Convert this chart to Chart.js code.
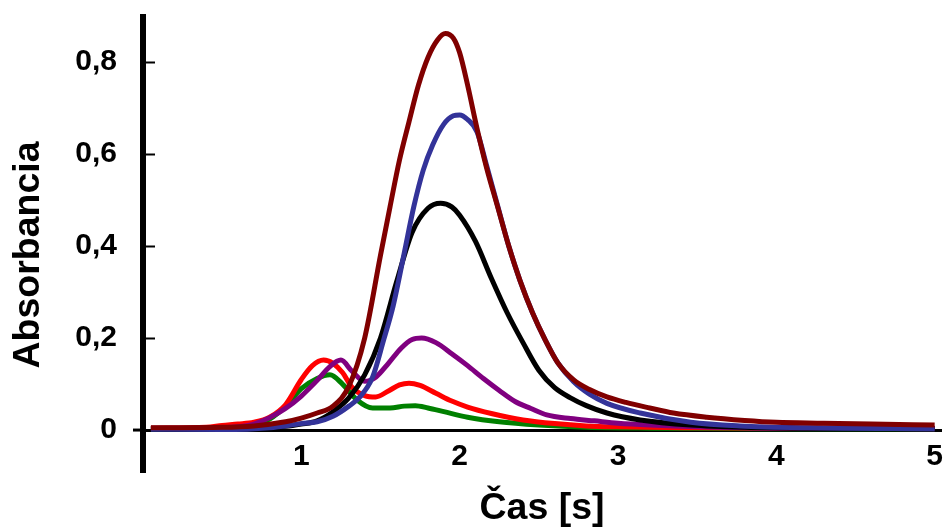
<!DOCTYPE html>
<html>
<head>
<meta charset="utf-8">
<script src="https://cdn.jsdelivr.net/npm/chart.js@4.4.1/dist/chart.umd.min.js"></script>
<style>
html,body{margin:0;padding:0;background:#fff;}
canvas{display:block;}
</style>
</head>
<body>
<canvas id="c" width="943" height="531"></canvas>
<script>
// ---- text & ticks ----
const xTitle = 'Čas [s]';
const yTitle = 'Absorbancia';
const xTickValues = [1, 2, 3, 4, 5];
const yTickValues = [0, 0.2, 0.4, 0.6, 0.8];
const yTickLabels = ['0', '0,2', '0,4', '0,6', '0,8'];

// ---- series (time in s, absorbance) ----
const darkRedTime = [0.05, 0.5, 0.7, 0.9, 1.0, 1.1, 1.2, 1.3, 1.4, 1.5, 1.56, 1.62, 1.68, 1.74, 1.8, 1.86, 1.91, 1.96, 2.0, 2.05, 2.11, 2.17, 2.24, 2.31, 2.38, 2.46, 2.54, 2.62, 2.72, 2.82, 2.93, 3.05, 3.2, 3.35, 3.56, 3.8, 4.0, 4.3, 4.6, 5.0];
const darkRedAbs  = [0.005, 0.006, 0.009, 0.018, 0.026, 0.037, 0.052, 0.095, 0.2, 0.38, 0.485, 0.587, 0.67, 0.75, 0.81, 0.848, 0.862, 0.852, 0.82, 0.75, 0.655, 0.57, 0.485, 0.4, 0.326, 0.255, 0.196, 0.146, 0.109, 0.088, 0.072, 0.06, 0.048, 0.037, 0.028, 0.021, 0.017, 0.015, 0.013, 0.011];

const blueTime = [0.05, 0.5, 0.8, 1.0, 1.1, 1.2, 1.3, 1.37, 1.45, 1.52, 1.58, 1.65, 1.71, 1.77, 1.83, 1.9, 1.96, 2.0, 2.05, 2.11, 2.17, 2.24, 2.31, 2.38, 2.46, 2.54, 2.62, 2.72, 2.82, 2.93, 3.14, 3.46, 3.77, 4.2, 5.0];
const blueAbs  = [0.002, 0.001, 0.005, 0.014, 0.018, 0.03, 0.052, 0.072, 0.115, 0.196, 0.27, 0.385, 0.485, 0.565, 0.62, 0.665, 0.683, 0.685, 0.675, 0.648, 0.575, 0.487, 0.4, 0.326, 0.255, 0.196, 0.146, 0.105, 0.078, 0.058, 0.037, 0.017, 0.009, 0.005, 0.003];

const blackTime = [0.05, 0.6, 0.9, 1.0, 1.1, 1.2, 1.3, 1.4, 1.5, 1.6, 1.7, 1.8, 1.88, 1.95, 2.0, 2.1, 2.2, 2.3, 2.4, 2.5, 2.6, 2.7, 2.8, 2.93, 3.14, 3.46, 3.8, 4.2, 5.0];
const blackAbs  = [0.003, 0.003, 0.008, 0.013, 0.02, 0.04, 0.07, 0.12, 0.2, 0.32, 0.43, 0.482, 0.493, 0.485, 0.467, 0.41, 0.33, 0.255, 0.19, 0.13, 0.092, 0.07, 0.053, 0.037, 0.022, 0.011, 0.006, 0.004, 0.003];

const purpleTime = [0.05, 0.4, 0.6, 0.7, 0.8, 0.9, 1.0, 1.1, 1.18, 1.25, 1.32, 1.4, 1.47, 1.55, 1.63, 1.7, 1.76, 1.85, 1.95, 2.05, 2.15, 2.25, 2.35, 2.45, 2.55, 2.7, 2.85, 3.0, 3.2, 3.5, 4.0, 5.0];
const purpleAbs  = [0.004, 0.004, 0.007, 0.013, 0.027, 0.047, 0.074, 0.108, 0.138, 0.152, 0.128, 0.106, 0.115, 0.145, 0.178, 0.197, 0.2, 0.19, 0.166, 0.14, 0.112, 0.086, 0.062, 0.047, 0.033, 0.025, 0.02, 0.015, 0.011, 0.007, 0.004, 0.003];

const redTime = [0.05, 0.4, 0.5, 0.6, 0.7, 0.8, 0.9, 1.0, 1.07, 1.14, 1.2, 1.26, 1.32, 1.4, 1.47, 1.55, 1.62, 1.68, 1.75, 1.85, 1.95, 2.05, 2.2, 2.4, 2.6, 2.8, 3.0, 3.5, 4.0, 5.0];
const redAbs  = [0.004, 0.006, 0.01, 0.013, 0.017, 0.028, 0.055, 0.11, 0.14, 0.152, 0.145, 0.125, 0.093, 0.075, 0.072, 0.085, 0.098, 0.102, 0.097, 0.08, 0.063, 0.05, 0.036, 0.022, 0.014, 0.009, 0.007, 0.005, 0.004, 0.004];

const greenTime = [0.05, 0.4, 0.6, 0.7, 0.8, 0.9, 1.0, 1.1, 1.18, 1.26, 1.35, 1.45, 1.56, 1.65, 1.72, 1.8, 1.9, 2.05, 2.25, 2.5, 2.8, 3.2, 4.0, 5.0];
const greenAbs  = [0.003, 0.004, 0.008, 0.013, 0.024, 0.052, 0.09, 0.112, 0.12, 0.1, 0.066, 0.048, 0.048, 0.052, 0.053, 0.048, 0.04, 0.028, 0.018, 0.011, 0.006, 0.004, 0.003, 0.003];

function pts(t, a) { return t.map((v, i) => ({ x: v, y: a[i] })); }

Chart.defaults.font.family = "'Liberation Sans', Arial, sans-serif";
Chart.defaults.color = '#000';

function ds(label, t, a, color) {
  return {
    label, data: pts(t, a), borderColor: color, backgroundColor: color,
    borderWidth: 5, pointRadius: 0, tension: 0.4, cubicInterpolationMode: 'monotone',
    fill: false, clip: false
  };
}

const axisPlugin = {
  id: 'axisMarks',
  afterDraw(chart) {
    const { ctx, chartArea, scales } = chart;
    const y = scales.y;
    const left = chartArea.left;
    const y0 = y.getPixelForValue(0);
    ctx.save();
    ctx.strokeStyle = '#000';
    ctx.lineWidth = 6;
    ctx.beginPath();
    ctx.moveTo(left, chartArea.top - 2);
    ctx.lineTo(left, y0 + 43);
    ctx.stroke();
    ctx.lineWidth = 3;
    ctx.beginPath();
    ctx.moveTo(left - 10, y0);
    ctx.lineTo(left, y0);
    ctx.stroke();
    ctx.lineWidth = 2;
    yTickValues.forEach(v => {
      if (v === 0) return;
      const p = Math.round(y.getPixelForValue(v)) + 0.5;
      ctx.beginPath();
      ctx.moveTo(left, p);
      ctx.lineTo(left + 12, p);
      ctx.stroke();
    });
    ctx.restore();
  }
};

new Chart(document.getElementById('c'), {
  type: 'line',
  data: {
    datasets: [
      ds('A', darkRedTime, darkRedAbs, '#800000'),
      ds('B', blueTime, blueAbs, '#333399'),
      ds('C', blackTime, blackAbs, '#000000'),
      ds('D', purpleTime, purpleAbs, '#800080'),
      ds('E', redTime, redAbs, '#ff0000'),
      ds('F', greenTime, greenAbs, '#008000')
    ]
  },
  options: {
    responsive: false,
    animation: false,
    devicePixelRatio: 1,
    layout: { padding: { left: 0, top: 16, right: 2, bottom: 37 } },
    plugins: { legend: { display: false }, tooltip: { enabled: false } },
    scales: {
      x: {
        type: 'linear',
        position: { y: 0 },
        min: 0,
        max: 5.04,
        afterBuildTicks: s => { s.ticks = xTickValues.map(v => ({ value: v })); },
        afterFit: s => { s.paddingLeft = 0; s.paddingRight = 0; s.paddingTop = 0; s.paddingBottom = 0; },
        grid: { display: false, drawTicks: false },
        border: { display: true, color: '#000', width: 3 },
        ticks: { font: { size: 30, weight: 'bold' }, color: '#000', padding: 9, maxRotation: 0, autoSkip: false,
                 callback: v => String(v) },
        title: { display: true, text: xTitle, font: { size: 37.5, weight: 'bold' }, color: '#000',
                 padding: { top: 2, bottom: 0 } }
      },
      y: {
        type: 'linear',
        position: 'left',
        min: -0.139,
        max: 0.9,
        afterFit: s => { s.width = 143; s.paddingTop = 0; s.paddingBottom = 0; s.paddingLeft = 0; s.paddingRight = 0; },
        afterBuildTicks: s => { s.ticks = yTickValues.map(v => ({ value: v })); },
        grid: { display: false, drawTicks: false },
        border: { display: false },
        ticks: { font: { size: 30, weight: 'bold' }, color: '#000', padding: 26, autoSkip: false,
                 callback: (v, i) => yTickLabels[i] },
        title: { display: true, text: yTitle, font: { size: 37.5, weight: 'bold' }, color: '#000',
                 padding: { top: 6, bottom: 0 } }
      }
    }
  },
  plugins: [axisPlugin]
});
</script>
</body>
</html>
